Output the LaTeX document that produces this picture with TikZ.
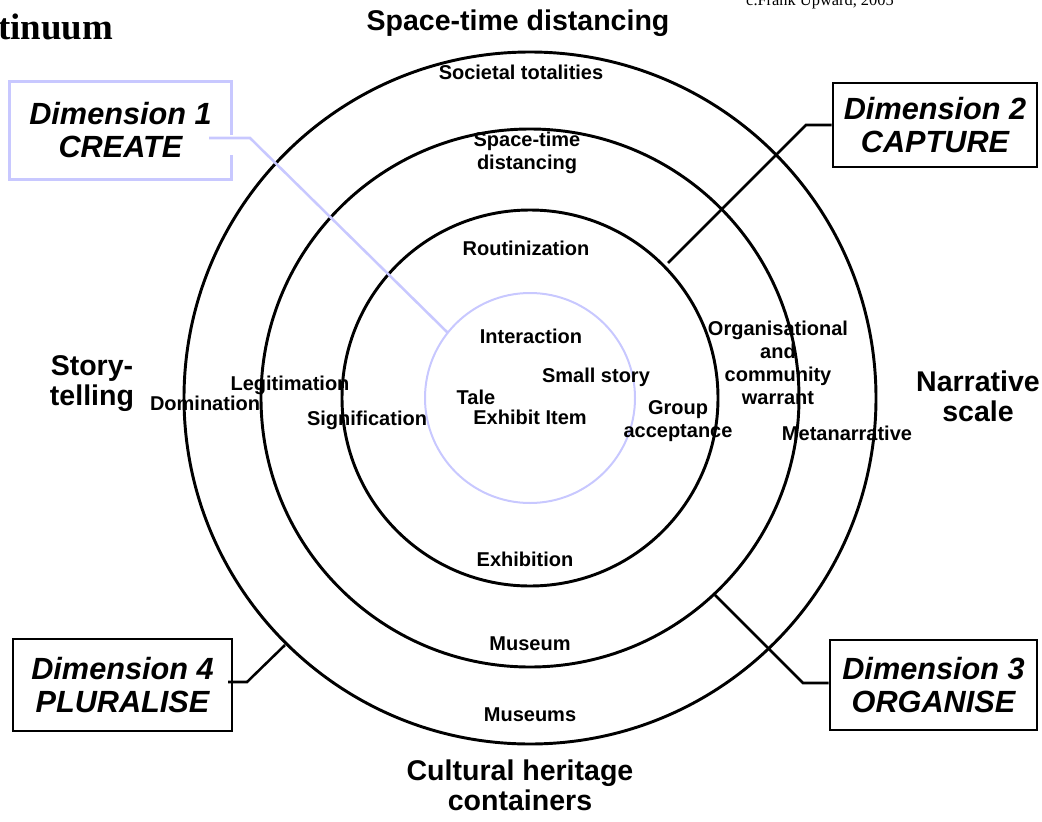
\documentclass[tikz,border=0pt]{standalone}
\usepackage{fontspec}
\setmainfont{Liberation Sans}
\newfontfamily\serifface{Liberation Serif}
\definecolor{lav}{RGB}{200,200,255}
\begin{document}
\begin{tikzpicture}[x=0.75pt,y=-0.75pt,
  ring/.style={line width=2.2pt},
  softring/.style={line width=1.5pt, draw=lav},
  lbl/.style={font=\bfseries\fontsize{15}{17.4}\selectfont, align=center, inner sep=0pt},
  big/.style={font=\bfseries\fontsize{21.4}{22.5}\selectfont, align=center, inner sep=0pt},
  dimbox/.style={font=\bfseries\itshape\fontsize{23}{24.75}\selectfont, align=center,
    inner sep=0pt, line width=1.9pt},
  lead/.style={line width=1.9pt},
]
\useasboundingbox (0,0) rectangle (1042,821);
\clip (0,0) rectangle (1042,821);

% heading fragments at the top edge
\node[font=\serifface\bfseries\fontsize{27.7}{30}\selectfont, anchor=west, inner sep=0pt] (ttl) at (-2,27) {tinuum};
\node[font=\serifface\fontsize{12.3}{14}\selectfont, inner sep=0pt, anchor=base] (cpy) at (820,6) {c.Frank Upward, 2005};

% the four rings
\coordinate (O) at (530,398);
\draw[ring] (O) circle[radius=259.5pt];
\draw[ring] (O) circle[radius=201.75pt];
\draw[ring] (O) circle[radius=141pt];
\draw[softring] (O) circle[radius=78.75pt];

% axis titles
\node[big] (top) at (518,23) {Space-time distancing};
\node[big] (left) at (92,384) {Story-\\telling};
\node[big] (right) at (978,396) {Narrative\\scale};
\node[big] (bottom) at (520,785) {Cultural heritage\\containers};

% ring labels
\node[lbl] (soc) at (521,72) {Societal totalities};
\node[lbl] (std) at (527,153) {Space-time\\distancing};
\node[lbl] (rout) at (526,248) {Routinization};
\node[lbl] (inter) at (531,336) {Interaction};
\node[lbl] (small) at (596,377) {Small story};
\node[lbl] (tale) at (476,397) {Tale};
\node[lbl] (item) at (530,417) {Exhibit Item};
\node[lbl] (sig) at (367,420) {Signification};
\node[lbl] (legit) at (290,385) {Legitimation};
\node[lbl] (dom) at (205,403) {Domination};
\node[lbl] (group) at (678,421) {Group\\acceptance};
\node[lbl] (org) at (778,363) {Organisational\\and\\community\\warrant};
\node[lbl] (meta) at (847,433) {Metanarrative};
\node[lbl] (exh) at (525,559) {Exhibition};
\node[lbl] (mus) at (530,644) {Museum};
\node[lbl] (muss) at (530,715) {Museums};

% dimension boxes
\node[dimbox, minimum width=164.25pt, minimum height=71.25pt] (d1) at (120.5,130.5) {Dimension 1\\CREATE};
\draw[lead, draw=lav] (d1.east |- 0,135) -- (d1.north east) -- (d1.north west)
  -- (d1.south west) -- (d1.south east) -- (d1.east |- 0,155);
\node[dimbox, draw, minimum width=153pt, minimum height=63pt] (d2) at (935,125) {Dimension 2\\CAPTURE};
\node[dimbox, draw, minimum width=155.25pt, minimum height=67.5pt] (d3) at (933.5,685) {Dimension 3\\ORGANISE};
\node[dimbox, draw, minimum width=164.25pt, minimum height=69pt] (d4) at (122.5,685) {Dimension 4\\PLURALISE};

% leader lines from the boxes to the rings
\coordinate (c1) at (448,333); \coordinate (k1) at (250,138); \coordinate (e1) at (209,138);
\draw[lead, draw=lav] (e1) -- (k1) -- (c1);
\coordinate (c2) at (668,263); \coordinate (k2) at (806,125);
\draw[lead] (c2) -- (k2) -- (d2.west |- k2);
\coordinate (c3) at (715,595); \coordinate (k3) at (803,683);
\draw[lead] (c3) -- (k3) -- (d3.west |- k3);
\coordinate (c4) at (285,645); \coordinate (k4) at (247,682); \coordinate (e4) at (228,682);
\draw[lead] (c4) -- (k4) -- (e4);
\end{tikzpicture}
\end{document}
